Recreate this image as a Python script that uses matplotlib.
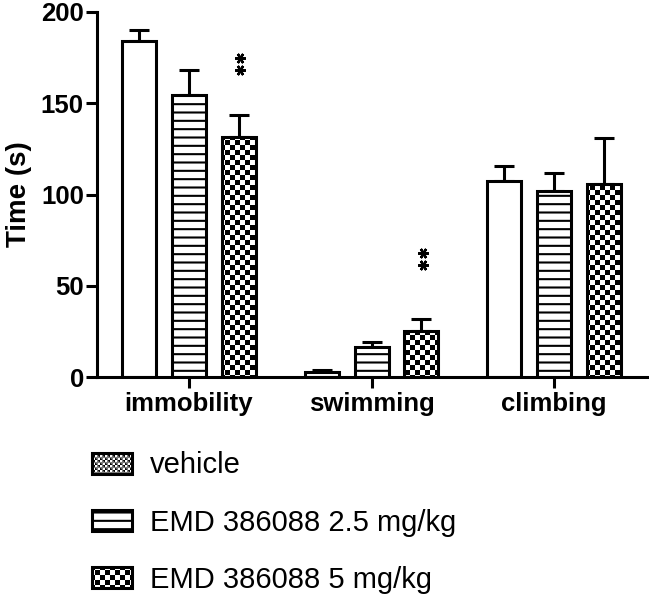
import numpy as np
import matplotlib
matplotlib.use('Agg')
import matplotlib.pyplot as plt
import matplotlib.hatch as mhatch
from matplotlib.path import Path
from matplotlib.patches import Patch

# data
groups = ['immobility', 'swimming', 'climbing']
series = ['vehicle', 'EMD 386088 2.5 mg/kg', 'EMD 386088 5 mg/kg']
vehicle_mean = [184.3, 2.7, 107.4]
vehicle_sem = [5.6, 1.0, 8.2]
emd25_mean = [154.7, 16.3, 101.7]
emd25_sem = [13.5, 3.0, 9.9]
emd5_mean = [131.5, 25.2, 105.8]
emd5_sem = [12.2, 6.6, 25.3]
sig_group = [0, 1]     # groups with ** over the 5 mg/kg bar
sig_y = [171.5, 64.5]

#%% checkerboard hatch, takes the place of the '.' pattern
HATCH_LW = 1.5

class CheckerHatch(mhatch.HatchPatternBase):
    def __init__(self, hatch, density):
        self.n = 20 * hatch.count('.')
        self.num_vertices = (self.n * self.n // 2) * 5

    def set_vertices_and_codes(self, vertices, codes):
        s = 1.0 / self.n
        m = HATCH_LW / 72.0 / 2.0   # hatch stroke makes squares grow
        k = 0
        for i in range(self.n):
            for j in range(self.n):
                if (i + j) % 2:
                    continue
                x0, y0 = i * s + m, j * s + m
                x1, y1 = (i + 1) * s - m, (j + 1) * s - m
                vertices[k:k + 5] = [(x0, y0), (x1, y0), (x1, y1), (x0, y1), (x0, y0)]
                codes[k:k + 5] = [Path.MOVETO, Path.LINETO, Path.LINETO,
                                  Path.LINETO, Path.CLOSEPOLY]
                k += 5

mhatch._hatch_types = [h for h in mhatch._hatch_types
                       if h is not mhatch.SmallFilledCircles] + [CheckerHatch]

plt.rcParams['font.family'] = ['Liberation Sans', 'DejaVu Sans']
plt.rcParams['hatch.linewidth'] = HATCH_LW
plt.rcParams['hatch.color'] = 'black'

#%%
LW = 2.2
fig = plt.figure(figsize=(6.49, 5.94), dpi=100)
ax = fig.add_axes([0.1495, 0.3653, 0.8475, 0.6145])

centers = np.arange(len(groups)) * 3.66
width = 0.68
means = [vehicle_mean, emd25_mean, emd5_mean]
sems = [vehicle_sem, emd25_sem, emd5_sem]
hatches = [None, '--', '.']

for k in range(3):
    x = centers + (k - 1)
    ax.bar(x, means[k], width, facecolor='white', edgecolor='black',
           linewidth=LW, hatch=hatches[k], zorder=2)
    ax.errorbar(x, means[k], yerr=[np.zeros(len(groups)), sems[k]], fmt='none',
                ecolor='black', elinewidth=LW, capsize=7, capthick=LW, zorder=1)

# significance stars, two stacked asterisks
for g, y in zip(sig_group, sig_y):
    xs = centers[g] + 1.03
    ax.plot([xs, xs], [y - 3.3, y + 3.3], ls='none', marker=(6, 2, 90),
            ms=7.5, mew=1.7, color='black')

ax.set_xlim(-1.84, centers[-1] + 1.86)
ax.set_ylim(0, 200)
ax.set_yticks([0, 50, 100, 150, 200])
ax.set_xticks(centers)
ax.set_xticklabels(groups)
ax.spines['top'].set_visible(False)
ax.spines['right'].set_visible(False)
ax.spines['left'].set_linewidth(LW)
ax.spines['bottom'].set_linewidth(LW)
ax.tick_params(axis='both', length=8, width=LW, labelsize=18.5)
ax.tick_params(axis='y', pad=1.5)
ax.tick_params(axis='x', pad=3)
for t in ax.get_xticklabels() + ax.get_yticklabels():
    t.set_fontweight('bold')
ax.set_ylabel('Time (s)', fontsize=20, fontweight='bold', labelpad=6)

handles = [Patch(facecolor='white', edgecolor='black', linewidth=LW, hatch='..'),
           Patch(facecolor='white', edgecolor='black', linewidth=LW, hatch='--'),
           Patch(facecolor='white', edgecolor='black', linewidth=LW, hatch='.')]
fig.legend(handles, series, loc='upper left', bbox_to_anchor=(0.142, 0.24),
           frameon=False, fontsize=21, borderpad=0, borderaxespad=0,
           handlelength=1.37, handleheight=0.73, handletextpad=0.6,
           labelspacing=1.0)

fig.savefig('out.png', dpi=100)
